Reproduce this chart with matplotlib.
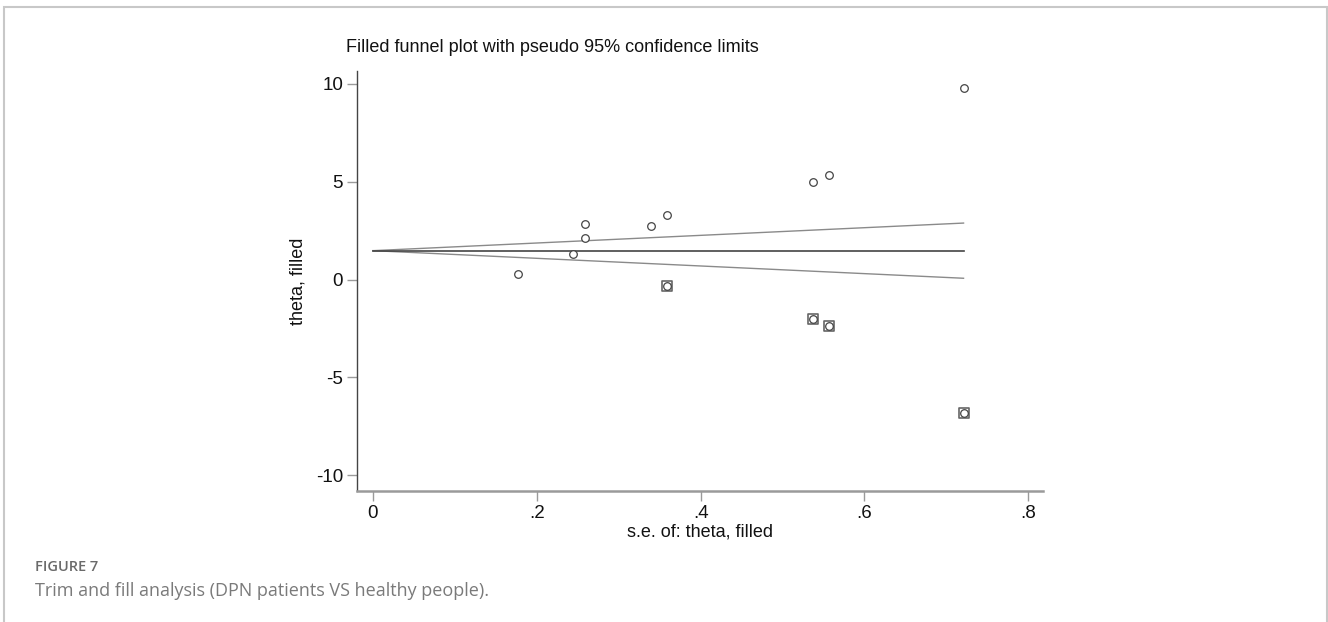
import matplotlib
matplotlib.use("Agg")
import matplotlib.pyplot as plt
from matplotlib.patches import Rectangle

# ---- data ----
se_obs = [0.177, 0.244, 0.259, 0.259, 0.340, 0.359, 0.537, 0.557, 0.721]
theta_obs = [0.30, 1.29, 2.12, 2.83, 2.74, 3.31, 4.97, 5.33, 9.77]
se_fill = [0.359, 0.537, 0.557, 0.721]
theta_fill = [-0.35, -2.03, -2.36, -6.81]
pooled_se = [0.0, 0.721]
pooled_theta = [1.48, 1.48]
ci_lower = [1.48, 0.07]
ci_upper = [1.48, 2.89]
x_ticks = [0, 0.2, 0.4, 0.6, 0.8]
x_ticklabels = ["0", ".2", ".4", ".6", ".8"]
y_ticks = [-10, -5, 0, 5, 10]
y_ticklabels = ["-10", "-5", "0", "5", "10"]

W, H = 1328, 622
fig = plt.figure(figsize=(W / 100, H / 100), dpi=100)
fig.patch.set_facecolor("white")

def fx(px):
    return px / W

def fy(py):
    return 1 - py / H

# outer frame
fig.patches.append(Rectangle((fx(4), fy(640)), fx(1327) - fx(4), fy(7) - fy(640),
                             transform=fig.transFigure, fill=False,
                             edgecolor="#c8c8c8", lw=1.5))

ax_l, ax_r, ax_t, ax_b = 357, 1043, 71, 491
ax = fig.add_axes([fx(ax_l), fy(ax_b), fx(ax_r) - fx(ax_l), fy(ax_t) - fy(ax_b)])
ax.set_xlim(-0.0195, 0.818)
ax.set_ylim(-10.8, 10.66)

ax.plot(pooled_se, ci_lower, color="#8a8a8a", lw=1.0, zorder=2)
ax.plot(pooled_se, ci_upper, color="#8a8a8a", lw=1.0, zorder=2)
ax.plot(pooled_se, pooled_theta, color="#444444", lw=1.2, zorder=2)

ax.scatter(se_fill, theta_fill, marker="s", s=52, facecolors="none",
           edgecolors="#666666", linewidths=1.2, zorder=3)
ax.scatter(se_obs + se_fill, theta_obs + theta_fill, marker="o", s=30,
           facecolors="white", edgecolors="#444444", linewidths=0.9, zorder=4)

for s in ["top", "right"]:
    ax.spines[s].set_visible(False)
ax.spines["left"].set_color("#444444")
ax.spines["left"].set_linewidth(1.0)
ax.spines["bottom"].set_color("#9a9a9a")
ax.spines["bottom"].set_linewidth(1.8)

ax.set_xticks(x_ticks)
ax.set_xticklabels(x_ticklabels)
ax.set_yticks(y_ticks)
ax.set_yticklabels(y_ticklabels)
ax.tick_params(axis="both", direction="out", length=7, width=1.0,
               color="#9a9a9a", labelsize=13.5, labelcolor="#111111", pad=3)
for lab in ax.get_xticklabels() + ax.get_yticklabels():
    lab.set_family(["Liberation Sans", "DejaVu Sans"])

ax.set_xlabel("s.e. of: theta, filled", fontsize=13, family=["Liberation Sans"],
              color="#111111", labelpad=1)
ax.set_ylabel("theta, filled", fontsize=13, family=["Liberation Sans"],
              color="#111111", labelpad=7)

fig.text(fx(346), fy(48), "Filled funnel plot with pseudo 95% confidence limits",
         fontsize=13, family=["Liberation Sans"], color="#111111",
         ha="left", va="center")

fig.text(fx(35), fy(567), "FIGURE 7", fontsize=10.5, family=["Open Sans"],
         fontweight="semibold", color="#6a6a6a", ha="left", va="center")
fig.text(fx(35), fy(591), "Trim and fill analysis (DPN patients VS healthy people).",
         fontsize=13, family=["Open Sans"], color="#7a7a7a", ha="left", va="center")

fig.savefig("out.png", dpi=100, facecolor="white")
